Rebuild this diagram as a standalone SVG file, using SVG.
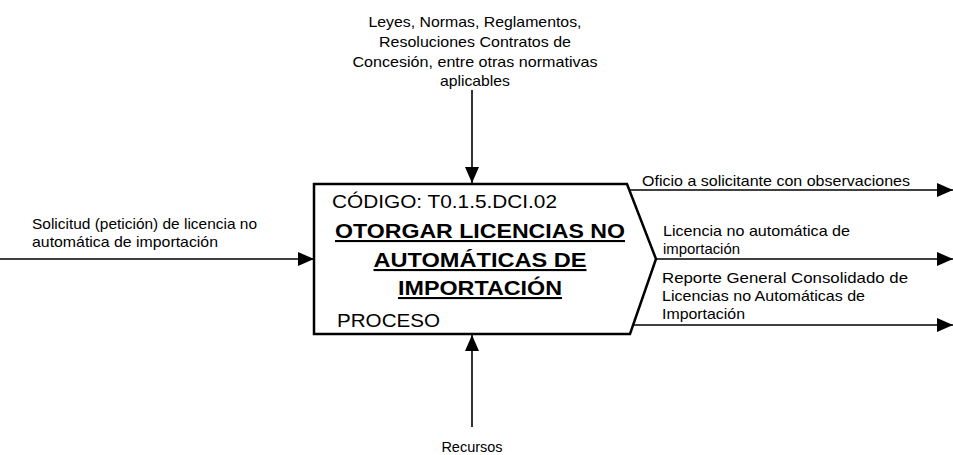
<svg xmlns="http://www.w3.org/2000/svg" width="953" height="455" viewBox="0 0 953 455">
<style>
.t{font-family:"Liberation Sans",Arial,sans-serif;font-size:14.5px;fill:#000}
.b{font-family:"Liberation Sans",Arial,sans-serif;font-size:19px;fill:#000}
.h{font-family:"Liberation Sans",Arial,sans-serif;font-size:21px;font-weight:bold;fill:#000;text-decoration:underline}
.ln{stroke:#000;stroke-width:1.6;fill:none}
.box{stroke:#000;stroke-width:2.5;fill:#fff;stroke-linejoin:miter}
</style>
<defs>
<marker id="ah" markerUnits="userSpaceOnUse" markerWidth="17" markerHeight="15" refX="16" refY="7" orient="auto">
<path d="M0,0 L16,7 L0,14 Z" fill="#000"/>
</marker>
</defs>
<rect width="953" height="455" fill="#fff"/>
<g id="connectors">
<line class="ln" x1="0" y1="259" x2="314" y2="259" marker-end="url(#ah)"/>
<line class="ln" x1="472" y1="90" x2="472" y2="183" marker-end="url(#ah)"/>
<line class="ln" x1="472" y1="427" x2="472" y2="335" marker-end="url(#ah)"/>
<line class="ln" x1="629" y1="190" x2="953" y2="190" marker-end="url(#ah)"/>
<line class="ln" x1="656" y1="259" x2="953" y2="259" marker-end="url(#ah)"/>
<line class="ln" x1="633" y1="325" x2="953" y2="325" marker-end="url(#ah)"/>
</g>
<g id="labels">
<text class="t" x="475" y="27" text-anchor="middle" textLength="213" lengthAdjust="spacingAndGlyphs">Leyes, Normas, Reglamentos,</text>
<text class="t" x="475" y="47" text-anchor="middle" textLength="192" lengthAdjust="spacingAndGlyphs">Resoluciones Contratos de</text>
<text class="t" x="475" y="67" text-anchor="middle" textLength="245" lengthAdjust="spacingAndGlyphs">Concesión, entre otras normativas</text>
<text class="t" x="475" y="86" text-anchor="middle" textLength="70" lengthAdjust="spacingAndGlyphs">aplicables</text>
<text class="t" x="32" y="229" textLength="225" lengthAdjust="spacingAndGlyphs">Solicitud (petición) de licencia no</text>
<text class="t" x="32" y="247" textLength="186" lengthAdjust="spacingAndGlyphs">automática de importación</text>
<text class="t" x="642" y="186" textLength="268" lengthAdjust="spacingAndGlyphs">Oficio a solicitante con observaciones</text>
<text class="t" x="663" y="236" textLength="187" lengthAdjust="spacingAndGlyphs">Licencia no automática de</text>
<text class="t" x="663" y="254" textLength="77" lengthAdjust="spacingAndGlyphs">importación</text>
<text class="t" x="662" y="283" textLength="246" lengthAdjust="spacingAndGlyphs">Reporte General Consolidado de</text>
<text class="t" x="662" y="301" textLength="203" lengthAdjust="spacingAndGlyphs">Licencias no Automáticas de</text>
<text class="t" x="662" y="319" textLength="83" lengthAdjust="spacingAndGlyphs">Importación</text>
<text class="t" x="472" y="452" text-anchor="middle">Recursos</text>
</g>
<g id="process">
<path class="box" d="M314,184 L627,184 L656,259 L630,334 L314,334 Z"/>
<text class="b" x="332" y="208" textLength="225" lengthAdjust="spacingAndGlyphs">CÓDIGO: T0.1.5.DCI.02</text>
<text class="h" x="480" y="238" text-anchor="middle" textLength="290" lengthAdjust="spacingAndGlyphs">OTORGAR LICENCIAS NO</text>
<text class="h" x="480" y="267" text-anchor="middle" textLength="213" lengthAdjust="spacingAndGlyphs">AUTOMÁTICAS DE</text>
<text class="h" x="480" y="295" text-anchor="middle" textLength="164" lengthAdjust="spacingAndGlyphs">IMPORTACIÓN</text>
<text class="b" x="337" y="327" textLength="103" lengthAdjust="spacingAndGlyphs">PROCESO</text>
</g>
</svg>
